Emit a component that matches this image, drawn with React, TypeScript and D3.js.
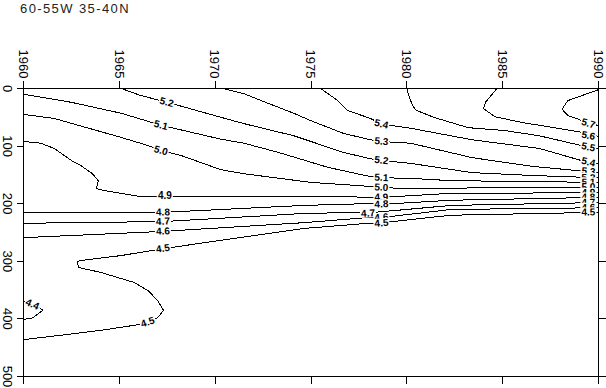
import * as d3 from 'd3';

// section title and axis ticks
const title = '60-55W 35-40N';
const yearTicks = [1960, 1965, 1970, 1975, 1980, 1985, 1990];
const depthTicks = [0, 100, 200, 300, 400, 500];

// contour lines as [year, depth]
const c57 = [[1990, 2], [1988.4, 21], [1988.1, 36], [1988.4, 47], [1989.0, 54], [1989.5, 61], [1990, 64]];
const c56 = [[1984.7, 0], [1984.1, 24], [1984.0, 35], [1984.3, 42], [1984.6, 49], [1986.0, 59], [1987.7, 68], [1989.1, 76], [1990, 83]];
const c55 = [[1980.0, 0], [1980.1, 12], [1980.3, 30], [1980.5, 38], [1981.4, 50], [1983.2, 68], [1985.1, 73], [1986.9, 82], [1989.1, 99], [1990, 104]];
const c54 = [[1975.5, 0], [1976.4, 21], [1976.9, 38], [1978.1, 52], [1978.7, 62], [1980.2, 69], [1983.4, 89], [1986.9, 104], [1989.1, 125], [1990, 130]];
const c53 = [[1970.4, 0], [1971.5, 9], [1972.4, 21], [1974.1, 43], [1975.0, 56], [1976.7, 78], [1978.1, 89], [1978.7, 92], [1980.2, 95], [1983.4, 120], [1986.5, 135], [1990, 146]];
const c52 = [[1965.1, 0], [1966.1, 12], [1967.5, 24], [1970.3, 50], [1971.5, 61], [1974.1, 82], [1976.7, 111], [1978.1, 122], [1978.7, 125], [1980.2, 130], [1983.4, 146], [1986.5, 151], [1990, 155]];
const c51 = [[1960, 10], [1962.5, 24], [1965.1, 43], [1967.2, 64], [1970.3, 88], [1971.5, 95], [1973.3, 111], [1975.9, 137], [1978.1, 153], [1978.7, 155], [1980.2, 156], [1982.3, 160], [1984.9, 161], [1990, 163]];
const c50 = [[1960, 45], [1961.6, 52], [1963.3, 68], [1965.1, 85], [1966.5, 99], [1967.2, 108], [1968.2, 116], [1970.3, 141], [1971.5, 148], [1975.0, 163], [1978.1, 170], [1978.7, 172], [1980.2, 174], [1984.9, 172], [1990, 172]];
const c49 = [[1960, 92], [1960.9, 95], [1961.6, 104], [1962.5, 125], [1963.0, 134], [1963.6, 148], [1963.9, 160], [1963.8, 174], [1964.2, 177], [1966.0, 187], [1967.4, 187], [1974.6, 187], [1978.7, 189], [1982.3, 182], [1990, 181]];
const c48 = [[1960, 215], [1967.3, 215], [1974.6, 203], [1977.8, 200], [1978.7, 201], [1982.3, 194], [1990, 189]];
const c47 = [[1960, 234], [1967.3, 231], [1974.6, 217], [1977.5, 215], [1978.0, 216], [1982.3, 203], [1990, 198]];
const c46 = [[1960, 259], [1967.3, 248], [1974.6, 233], [1978.0, 224], [1978.7, 224], [1982.3, 210], [1990, 207]];
const c45 = [[1960, 436], [1962.3, 427], [1964.0, 420], [1965.8, 411], [1966.5, 406], [1967.0, 398], [1967.3, 385], [1967.0, 368], [1966.5, 351], [1965.8, 337], [1964.0, 319], [1962.9, 311], [1962.8, 302], [1962.9, 299], [1965.1, 290], [1967.3, 278], [1974.6, 243], [1978.0, 234], [1978.7, 233], [1982.3, 220], [1990, 215]];
const c44 = [[1960, 401], [1960.5, 398], [1961.0, 385], [1960.7, 377], [1960, 370]];

// where each contour carries its value label, [year, depth]
const lab57 = [[1989.5, 61]];
const lab56 = [[1989.5, 82]];
const lab55 = [[1989.5, 102]];
const lab54 = [[1978.7, 62], [1989.5, 128]];
const lab53 = [[1978.7, 92], [1989.5, 144]];
const lab52 = [[1967.5, 24], [1978.7, 125], [1989.5, 155]];
const lab51 = [[1967.2, 64], [1978.7, 155], [1989.5, 163]];
const lab50 = [[1967.2, 108], [1978.7, 172], [1989.5, 172]];
const lab49 = [[1967.4, 187], [1978.7, 189], [1989.5, 181]];
const lab48 = [[1967.3, 215], [1978.7, 201], [1989.5, 189]];
const lab47 = [[1967.3, 231], [1978.0, 217], [1989.5, 198]];
const lab46 = [[1967.3, 248], [1978.7, 224], [1989.5, 207]];
const lab45 = [[1967.3, 278], [1966.5, 406], [1978.7, 234], [1989.5, 215]];
const lab44 = [[1960.5, 375]];

const levels = [5.7, 5.6, 5.5, 5.4, 5.3, 5.2, 5.1, 5.0, 4.9, 4.8, 4.7, 4.6, 4.5, 4.4];
const lines = [c57, c56, c55, c54, c53, c52, c51, c50, c49, c48, c47, c46, c45, c44];
const labelSets = [lab57, lab56, lab55, lab54, lab53, lab52, lab51, lab50, lab49, lab48, lab47, lab46, lab45, lab44];

// angle of the line near a label, kept readable
function labelAngle(pts, lx, ly) {
  let best = 0;
  let bd = Infinity;
  pts.forEach((p, i) => {
    const d = (p[0] - lx) ** 2 + (p[1] - ly) ** 2;
    if (d < bd) { bd = d; best = i; }
  });
  const a = pts[Math.max(0, best - 1)];
  const b = pts[Math.min(pts.length - 1, best + 1)];
  let ang = (Math.atan2(b[1] - a[1], b[0] - a[0]) * 180) / Math.PI;
  if (ang > 90) ang -= 180;
  if (ang < -90) ang += 180;
  return ang;
}

export default function App() {
  const width = 606;
  const height = 388;
  const x = d3.scaleLinear().domain([1960, 1990]).range([23, 598]);
  const y = d3.scaleLinear().domain([0, 500]).range([88, 376]);
  const line = d3.line<number[]>().x((d) => x(d[0]) + 0.5).y((d) => y(d[1]) + 0.5);

  const x0 = x(1960) + 0.5;
  const x1 = x(1990) + 0.5;
  const y0 = y(0) + 0.5;
  const y1 = y(500) + 0.5;
  const font = "'Liberation Sans', Arial, sans-serif";

  return (
    <svg width={width} height={height} style={{ position: 'absolute', left: 0, top: 0, background: '#fff' }} fontFamily={font}>
      <rect width={width} height={height} fill="#fff" />
      <text x={20} y={13} fontSize={13} letterSpacing={1.4} fill="#222">{title}</text>

      {/* contour lines */}
      {lines.map((pts, i) => (
        <path key={`c-${i}`} d={line(pts) ?? ''} fill="none" stroke="#000" strokeWidth={1} shapeRendering="crispEdges" />
      ))}

      {/* contour labels with white backing */}
      {labelSets.map((set, i) => {
        const px = lines[i].map((p) => [x(p[0]), y(p[1])]);
        return set.map((l, j) => {
          const lx = x(l[0]);
          const ly = y(l[1]);
          const ang = labelAngle(px, lx, ly);
          return (
            <g key={`l-${i}-${j}`} transform={`translate(${lx},${ly}) rotate(${ang})`}>
              <rect x={-8} y={-4.5} width={16} height={9} fill="#fff" />
              <text textAnchor="middle" dy="0.36em" fontSize={10} fontWeight="bold" fill="#000">
                {levels[i].toFixed(1)}
              </text>
            </g>
          );
        });
      })}

      {/* frame */}
      <g stroke="#000" strokeWidth={1} shapeRendering="crispEdges">
        <line x1={x0} x2={x1} y1={y0} y2={y0} />
        <line x1={x0} x2={x1} y1={y1} y2={y1} />
        <line x1={x0} x2={x0} y1={y0} y2={y1} />
        <line x1={x1} x2={x1} y1={y0} y2={y1} />
      </g>

      {/* top axis: years, with plain ticks at the bottom */}
      {yearTicks.map((t) => (
        <g key={`yt-${t}`}>
          <line x1={x(t) + 0.5} x2={x(t) + 0.5} y1={y0} y2={y0 - 8} stroke="#000" shapeRendering="crispEdges" />
          <line x1={x(t) + 0.5} x2={x(t) + 0.5} y1={y1} y2={y1 + 7} stroke="#000" shapeRendering="crispEdges" />
          <text transform={`translate(${x(t) + 0.5},${y0 - 10}) rotate(90)`} textAnchor="end" dy="0.36em" fontSize={13} fill="#000">
            {t}
          </text>
        </g>
      ))}

      {/* left axis: depth, with plain ticks on the right */}
      {depthTicks.map((t) => (
        <g key={`dt-${t}`}>
          <line x1={x0} x2={x0 - 7} y1={y(t) + 0.5} y2={y(t) + 0.5} stroke="#000" shapeRendering="crispEdges" />
          <line x1={x1} x2={x1 + 8} y1={y(t) + 0.5} y2={y(t) + 0.5} stroke="#000" shapeRendering="crispEdges" />
          <text transform={`translate(8,${y(t) + 0.5}) rotate(90)`} textAnchor="middle" dy="0.36em" fontSize={13} fill="#000">
            {t}
          </text>
        </g>
      ))}
    </svg>
  );
}
